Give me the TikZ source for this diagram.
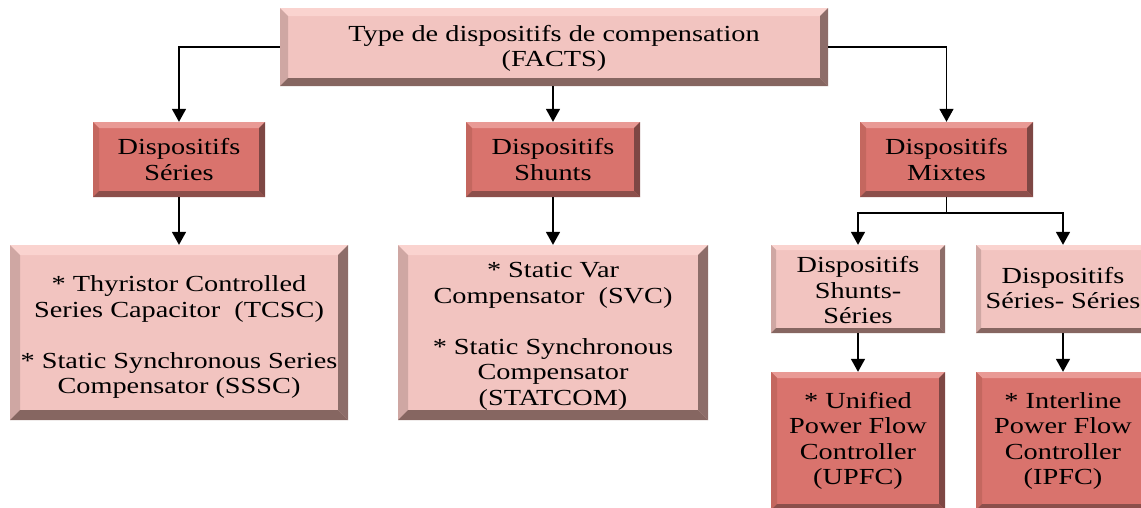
\documentclass[tikz,border=0pt]{standalone}
\usepackage{fontspec}
\setmainfont{Liberation Serif}[FakeStretch=1.23]
\usetikzlibrary{arrows.meta,calc}

% face and bevel colours
\definecolor{lface}{HTML}{F2C4C0}
\definecolor{ltop}{HTML}{FAD3CF}
\definecolor{lleft}{HTML}{CFA7A3}
\definecolor{lright}{HTML}{8D6D69}
\definecolor{lbot}{HTML}{866661}
\definecolor{dface}{HTML}{D9736D}
\definecolor{dtop}{HTML}{E99A95}
\definecolor{dleft}{HTML}{C4675F}
\definecolor{dright}{HTML}{7E4744}
\definecolor{dbot}{HTML}{8C4F4B}

% lower a text block without changing the space it takes
\newcommand{\lowered}[2]{\raisebox{-#1}[\height][\depth]{\begin{tabular}{@{}c@{}}#2\end{tabular}}}

\tikzset{
  % raised bevel drawn inside the node outline
  bevel/.style n args={5}{path picture={
    \coordinate (bsw) at (path picture bounding box.south west);
    \coordinate (bne) at (path picture bounding box.north east);
    \coordinate (bnw) at (bsw|-bne);
    \coordinate (bse) at (bne|-bsw);
    \fill[#2] (bnw) -- (bne) -- ($(bne)+(-#1,-#1)$) -- ($(bnw)+(#1,-#1)$) -- cycle;
    \fill[#3] (bnw) -- (bsw) -- ($(bsw)+(#1,#1)$) -- ($(bnw)+(#1,-#1)$) -- cycle;
    \fill[#4] (bne) -- (bse) -- ($(bse)+(-#1,#1)$) -- ($(bne)+(-#1,-#1)$) -- cycle;
    \fill[#5] (bsw) -- (bse) -- ($(bse)+(-#1,#1)$) -- ($(bsw)+(#1,#1)$) -- cycle;
  }},
  box/.style={rectangle, inner sep=0pt, align=center, text=black,
    font=\fontsize{23}{25.5}\selectfont},
  lightbox/.style={box, fill=lface, bevel={#1}{ltop}{lleft}{lright}{lbot}},
  darkbox/.style={box, fill=dface, bevel={#1}{dtop}{dleft}{dright}{dbot}},
  arr/.style={draw=black, line width=1.6pt, -{Triangle[width=14pt,length=13pt]}},
  link/.style={draw=black, line width=1.6pt},
}

\begin{document}
\begin{tikzpicture}[x=1pt,y=1pt]
  \useasboundingbox (0,0) rectangle (1141,-507);
  \clip (0,0) rectangle (1141,-507);

  % root
  \node[lightbox=8, minimum width=548pt, minimum height=78pt] (root) at (554,-47)
    {\lowered{2pt}{Type de dispositifs de compensation\\(FACTS)}};

  % families
  \node[darkbox=6, minimum width=172pt, minimum height=75pt] (series) at (179,-159.5)
    {Dispositifs\\Séries};
  \node[darkbox=6, minimum width=174pt, minimum height=75pt] (shunts) at (553,-159.5)
    {Dispositifs\\Shunts};
  \node[darkbox=6, minimum width=173pt, minimum height=75pt] (mixtes) at (946.5,-159.5)
    {Dispositifs\\Mixtes};

  % series and shunt devices
  \node[lightbox=10, minimum width=338pt, minimum height=175pt] (tcsc) at (179,-332.5)
    {\lowered{5pt}{* Thyristor Controlled\\Series Capacitor\ \ (TCSC)\\[25.5pt]
     * Static Synchronous Series\\Compensator (SSSC)}};
  \node[lightbox=10, minimum width=310pt, minimum height=175pt] (svc) at (553,-332.5)
    {\lowered{4pt}{* Static Var\\Compensator\ \ (SVC)\\[25.5pt]
     * Static Synchronous\\Compensator\\(STATCOM)}};

  % mixed sub-families
  \node[lightbox=5, minimum width=174pt, minimum height=88pt] (shser) at (858,-289)
    {\lowered{4pt}{Dispositifs\\Shunts-\\Séries}};
  \node[lightbox=5, minimum width=174pt, minimum height=88pt] (serser) at (1063,-289)
    {\lowered{2pt}{Dispositifs\\Séries- Séries}};

  % mixed devices
  \node[darkbox=6, minimum width=174pt, minimum height=138pt] (upfc) at (858,-441)
    {* Unified\\Power Flow\\Controller\\(UPFC)};
  \node[darkbox=6, minimum width=174pt, minimum height=138pt] (ipfc) at (1063,-441)
    {* Interline\\Power Flow\\Controller\\(IPFC)};

  % connectors
  \draw[arr] (root.west) -| (series.north);
  \draw[arr] (root.south -| shunts.north) -- (shunts.north);
  \draw[arr] (root.east) -| (mixtes.north);
  \draw[arr] (series.south) -- (tcsc.north -| series.south);
  \draw[arr] (shunts.south) -- (svc.north -| shunts.south);
  \draw[link] (mixtes.south) -- ++(0,-16) coordinate (mj);
  \draw[arr] (mj) -| (shser.north);
  \draw[arr] (mj) -| (serser.north);
  \draw[arr] (shser.south) -- (upfc.north);
  \draw[arr] (serser.south) -- (ipfc.north);
\end{tikzpicture}
\end{document}
